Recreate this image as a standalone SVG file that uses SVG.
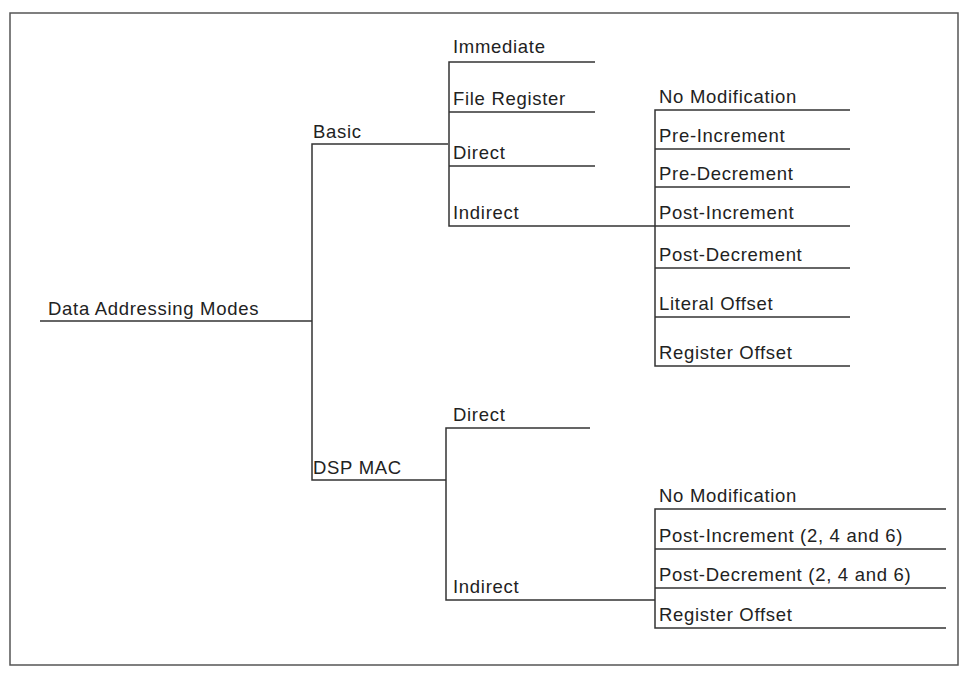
<svg xmlns="http://www.w3.org/2000/svg" width="968" height="673" viewBox="0 0 968 673">
<style>
text{font-family:"Liberation Sans",Arial,sans-serif;font-size:18.5px;letter-spacing:0.7px;fill:#222}
line,path{stroke:#333;stroke-width:1.5;fill:none}
</style>
<rect width="968" height="673" fill="#fff"/>
<rect x="10" y="13" width="948" height="652" fill="none" stroke="#555" stroke-width="1.5"/>
<g id="connectors">
<line x1="40" y1="321" x2="312" y2="321"/>
<path d="M448 144H312V480H446"/>
<path d="M595 62H449V226H655"/>
<line x1="449" y1="112" x2="595" y2="112"/>
<line x1="449" y1="166" x2="595" y2="166"/>
<path d="M850 110H655V366H850"/>
<line x1="655" y1="149" x2="850" y2="149"/>
<line x1="655" y1="187" x2="850" y2="187"/>
<line x1="655" y1="226" x2="850" y2="226"/>
<line x1="655" y1="268" x2="850" y2="268"/>
<line x1="655" y1="317" x2="850" y2="317"/>
<path d="M590 428H446V600H655"/>
<path d="M946 509H655V628H946"/>
<line x1="655" y1="549" x2="946" y2="549"/>
<line x1="655" y1="588" x2="946" y2="588"/>
</g>
<g id="n-root"><text x="48" y="315">Data Addressing Modes</text></g>
<g id="n-basic"><text x="313" y="138">Basic</text></g>
<g id="n-dsp"><text x="313" y="474">DSP MAC</text></g>
<g id="n-imm"><text x="453" y="53">Immediate</text></g>
<g id="n-file"><text x="453" y="105">File Register</text></g>
<g id="n-direct"><text x="453" y="159">Direct</text></g>
<g id="n-indirect"><text x="453" y="219">Indirect</text></g>
<g id="n-b1"><text x="659" y="103">No Modification</text></g>
<g id="n-b2"><text x="659" y="142">Pre-Increment</text></g>
<g id="n-b3"><text x="659" y="180">Pre-Decrement</text></g>
<g id="n-b4"><text x="659" y="219">Post-Increment</text></g>
<g id="n-b5"><text x="659" y="261">Post-Decrement</text></g>
<g id="n-b6"><text x="659" y="310">Literal Offset</text></g>
<g id="n-b7"><text x="659" y="359">Register Offset</text></g>
<g id="n-ddirect"><text x="453" y="421">Direct</text></g>
<g id="n-dindirect"><text x="453" y="593">Indirect</text></g>
<g id="n-d1"><text x="659" y="502">No Modification</text></g>
<g id="n-d2"><text x="659" y="542">Post-Increment (2, 4 and 6)</text></g>
<g id="n-d3"><text x="659" y="581">Post-Decrement (2, 4 and 6)</text></g>
<g id="n-d4"><text x="659" y="621">Register Offset</text></g>
</svg>
